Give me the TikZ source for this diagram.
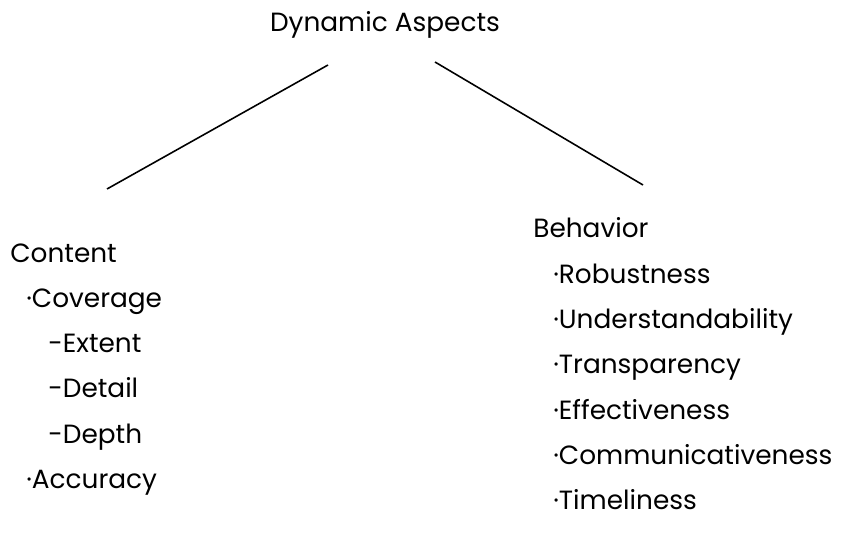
\documentclass[tikz,border=0pt]{standalone}
\usepackage{fontspec}
\setmainfont{Poppins}
\begin{document}
\begin{tikzpicture}[x=0.02cm,y=-0.02cm,
  label/.style={anchor=base west,inner sep=0pt,font=\fontsize{15}{18}\selectfont}]
\useasboundingbox (0,0) rectangle (845,533);

% Title
\node[label,anchor=base] (title) at (385,32) {Dynamic Aspects};

% Branches
\coordinate (lefttop) at (328,65);
\coordinate (leftend) at (107,189);
\coordinate (righttop) at (435,62);
\coordinate (rightend) at (643,185);
\draw[line width=0.9pt] (lefttop) -- (leftend);
\draw[line width=0.9pt] (righttop) -- (rightend);

% Content
\node[label] (content) at (10,263) {Content};
\node[label] (coverage) at (26,308) {·Coverage};
\foreach \y/\name in {353/Extent,398/Detail,443/Depth} {
  \node[label] (\name) at (48,\y) {-\name};
}
\node[label] (accuracy) at (26,488) {·Accuracy};

% Behavior
\node[label] (behavior) at (533,238) {Behavior};
\foreach \y/\name in {284/Robustness,329/Understandability,374/Transparency,419/Effectiveness,464/Communicativeness,509/Timeliness} {
  \node[label] (\name) at (553,\y) {·\name};
}
\end{tikzpicture}
\end{document}
